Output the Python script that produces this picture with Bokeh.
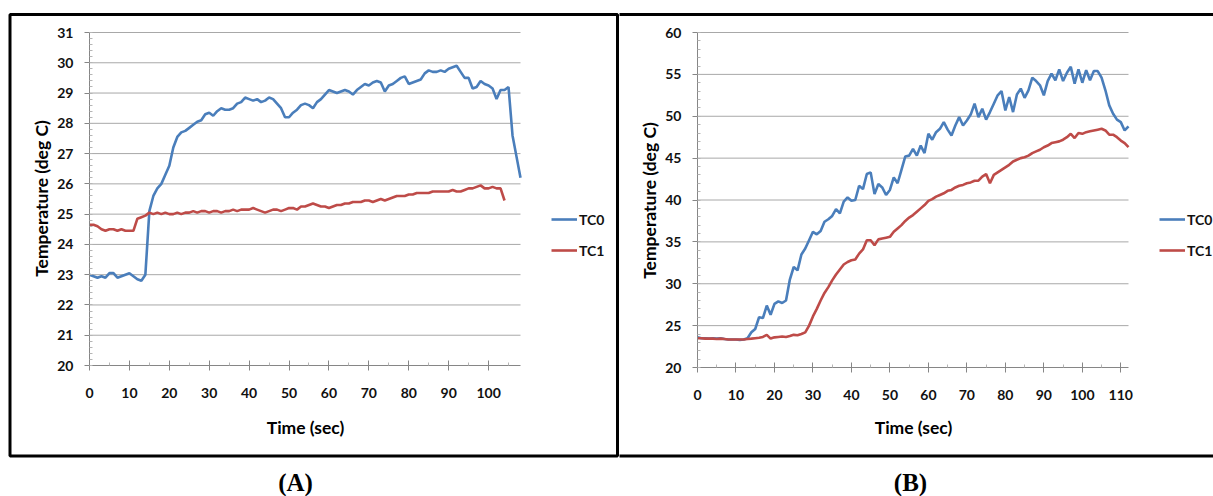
import math

from bokeh.plotting import figure
from bokeh.layouts import row
from bokeh.models import (Range1d, FixedTicker, Legend, LegendItem, PolyAnnotation,
                          Label, LinearAxis)
from bokeh.embed import file_html
from bokeh.resources import INLINE

FONT = "Lato"
BLUE = "#4A7EBB"
RED = "#BE4B48"
AXIS_GRAY = "#868686"
GRID_GRAY = "#a8a8a8"

# ---- Panel (A): thermocouple readings, seconds 0..108 ----
a_time_tc0 = list(range(0, 109))
a_tc0 = [23.0, 22.95, 22.9, 22.95, 22.9, 23.05, 23.05, 22.9, 22.95, 23.0,
         23.05, 22.95, 22.85, 22.8, 23.0, 25.1, 25.6, 25.85, 26.0, 26.3,
         26.6, 27.2, 27.55, 27.7, 27.75, 27.85, 27.95, 28.05, 28.1, 28.3,
         28.35, 28.25, 28.4, 28.5, 28.45, 28.45, 28.5, 28.65, 28.7, 28.85,
         28.8, 28.75, 28.8, 28.7, 28.75, 28.85, 28.8, 28.65, 28.5, 28.2,
         28.2, 28.35, 28.45, 28.6, 28.65, 28.6, 28.5, 28.7, 28.8, 28.95,
         29.1, 29.05, 29.0, 29.05, 29.1, 29.05, 28.95, 29.1, 29.2, 29.3,
         29.25, 29.35, 29.4, 29.35, 29.05, 29.25, 29.3, 29.4, 29.5, 29.55,
         29.3, 29.35, 29.4, 29.45, 29.65, 29.75, 29.7, 29.7, 29.75, 29.7,
         29.8, 29.85, 29.9, 29.7, 29.5, 29.5, 29.15, 29.2, 29.4, 29.3,
         29.25, 29.15, 28.8, 29.1, 29.1, 29.2, 27.6, 26.9, 26.2]

a_time_tc1 = list(range(0, 105))
a_tc1 = [24.65, 24.65, 24.6, 24.5, 24.45, 24.5, 24.5, 24.45, 24.5, 24.45,
         24.45, 24.45, 24.85, 24.9, 24.95, 25.05, 25.0, 25.05, 25.0, 25.05,
         25.0, 25.0, 25.05, 25.0, 25.05, 25.05, 25.1, 25.05, 25.1, 25.1,
         25.05, 25.1, 25.1, 25.05, 25.1, 25.1, 25.15, 25.1, 25.15, 25.15,
         25.15, 25.2, 25.15, 25.1, 25.05, 25.1, 25.15, 25.15, 25.1, 25.15,
         25.2, 25.2, 25.15, 25.25, 25.25, 25.3, 25.35, 25.3, 25.25, 25.25,
         25.2, 25.25, 25.3, 25.3, 25.35, 25.35, 25.4, 25.4, 25.4, 25.45,
         25.45, 25.4, 25.45, 25.5, 25.45, 25.5, 25.55, 25.6, 25.6, 25.6,
         25.65, 25.65, 25.7, 25.7, 25.7, 25.7, 25.75, 25.75, 25.75, 25.75,
         25.75, 25.8, 25.75, 25.75, 25.8, 25.85, 25.85, 25.9, 25.95, 25.85,
         25.85, 25.9, 25.85, 25.85, 25.45]

a_xticks = [0, 10, 20, 30, 40, 50, 60, 70, 80, 90, 100]
a_yticks = [20, 21, 22, 23, 24, 25, 26, 27, 28, 29, 30, 31]
a_xlim = (0, 108)
a_ylim = (20, 31)

# ---- Panel (B): thermocouple readings, seconds 0..112 ----
b_time = list(range(0, 113))
b_tc0 = [23.6, 23.5, 23.5, 23.45, 23.5, 23.45, 23.5, 23.4, 23.35, 23.35,
         23.35, 23.3, 23.35, 23.5, 24.2, 24.6, 26.0, 25.9, 27.4, 26.3,
         27.6, 27.9, 27.7, 28.0, 30.5, 32.0, 31.6, 33.5, 34.2, 35.2,
         36.2, 35.9, 36.3, 37.4, 37.7, 38.1, 38.9, 38.4, 39.8, 40.3,
         39.9, 40.0, 41.7, 41.3, 43.1, 43.3, 40.7, 41.9, 41.5, 40.6,
         41.2, 42.7, 42.0, 43.6, 45.2, 45.3, 46.1, 45.3, 46.5, 45.6,
         47.9, 47.2, 48.1, 48.5, 49.3, 48.4, 47.7, 48.9, 49.9, 48.9,
         49.5, 50.2, 51.5, 49.9, 50.9, 49.6, 50.5, 51.5, 52.5, 53.0,
         50.7, 52.3, 50.5, 52.6, 53.3, 52.2, 53.1, 54.6, 54.2, 53.7,
         52.5, 54.2, 55.1, 54.3, 55.6, 54.2, 55.2, 55.9, 53.9, 55.6,
         54.0, 55.5, 54.3, 55.4, 55.4, 54.6, 53.1, 51.3, 50.3, 49.6,
         49.3, 48.3, 48.8]
b_tc1 = [23.5, 23.5, 23.45, 23.45, 23.45, 23.4, 23.45, 23.4, 23.35, 23.35,
         23.35, 23.35, 23.35, 23.4, 23.45, 23.5, 23.55, 23.65, 23.9, 23.45,
         23.6, 23.65, 23.7, 23.65, 23.75, 23.9, 23.85, 24.0, 24.2, 25.0,
         26.1, 27.0, 28.0, 28.9, 29.6, 30.4, 31.1, 31.7, 32.3, 32.6,
         32.8, 32.9, 33.6, 34.1, 35.2, 35.2, 34.6, 35.3, 35.4, 35.5,
         35.6, 36.2, 36.6, 37.0, 37.5, 37.9, 38.2, 38.6, 39.0, 39.4,
         39.9, 40.1, 40.4, 40.6, 40.8, 41.1, 41.2, 41.5, 41.7, 41.8,
         42.0, 42.1, 42.3, 42.3, 42.8, 43.1, 42.0, 43.0, 43.3, 43.6,
         43.9, 44.2, 44.6, 44.8, 45.0, 45.1, 45.3, 45.6, 45.8, 46.0,
         46.3, 46.5, 46.8, 46.9, 47.0, 47.2, 47.5, 47.9, 47.4, 48.0,
         47.9, 48.1, 48.2, 48.3, 48.4, 48.5, 48.3, 47.8, 47.8, 47.5,
         47.1, 46.8, 46.3]

b_xticks = [0, 10, 20, 30, 40, 50, 60, 70, 80, 90, 100, 110]
b_yticks = [20, 25, 30, 35, 40, 45, 50, 55, 60]
b_xlim = (0, 112)
b_ylim = (20, 60)

series_names = ["TC0", "TC1"]
panel_labels = ["(A)", "(B)"]
x_title = "Time (sec)"
y_title = "Temperature (deg C)"

H = 496


def make_panel(width, plot_box, xlim, ylim, xticks, xminor, yticks, yminor,
               curves, border, legend_x, tag, tag_x, ytitle_x, ytitle_y, xtitle_x):
    """plot_box = (left, right, top, bottom) of the data area in canvas pixels."""
    left, right, top, bottom = plot_box
    kx = (right - left) / (xlim[1] - xlim[0])
    ky = (bottom - top) / (ylim[1] - ylim[0])
    x_range = Range1d(xlim[0] - left / kx, xlim[1] + (width - right) / kx)
    y_range = Range1d(ylim[0] - (H - bottom) / ky, ylim[1] + top / ky)

    p = figure(width=width, height=H, output_backend="svg", toolbar_location=None,
               x_range=x_range, y_range=y_range, x_axis_type=None, y_axis_type=None,
               min_border=0, min_border_left=0, min_border_right=0,
               min_border_top=0, min_border_bottom=0)
    p.outline_line_color = None
    p.background_fill_color = "white"
    p.border_fill_color = "white"
    p.xgrid.visible = False
    p.ygrid.visible = False

    # horizontal gridlines across the data area
    grid_y = [t for t in yticks if t != ylim[0]]
    p.segment(x0=[xlim[0]] * len(grid_y), x1=[xlim[1]] * len(grid_y),
              y0=grid_y, y1=grid_y, line_color=GRID_GRAY, line_width=1)

    xa = LinearAxis(fixed_location=ylim[0], bounds=xlim,
                    ticker=FixedTicker(ticks=xticks, minor_ticks=xminor))
    ya = LinearAxis(fixed_location=xlim[0], bounds=ylim,
                    ticker=FixedTicker(ticks=yticks, minor_ticks=yminor))
    for ax in (xa, ya):
        ax.axis_line_color = AXIS_GRAY
        ax.major_tick_line_color = AXIS_GRAY
        ax.minor_tick_line_color = "#b5b5b5"
        ax.major_label_text_font = FONT
        ax.major_label_text_font_style = "bold"
        ax.major_label_text_font_size = "14px"
        ax.major_label_text_color = "#111111"
    xa.major_tick_in = 5
    xa.major_tick_out = 5
    xa.minor_tick_in = 3
    xa.minor_tick_out = 0
    xa.major_label_standoff = 17
    ya.major_tick_in = 0
    ya.major_tick_out = 5
    ya.minor_tick_in = 3
    ya.minor_tick_out = 0
    ya.major_label_standoff = 11
    p.add_layout(xa, "below")
    p.add_layout(ya, "left")

    items = []
    for (xs, ys, color), name in zip(curves, series_names):
        r = p.line(xs, ys, line_color=color, line_width=2.6)
        items.append(LegendItem(label=name, renderers=[r]))

    legend = Legend(items=items, location=(legend_x, H - 260), orientation="vertical",
                    glyph_width=26, glyph_height=20, label_height=20, spacing=11,
                    padding=0, margin=0, label_standoff=2,
                    border_line_color=None, background_fill_alpha=0,
                    label_text_font=FONT, label_text_font_size="14px",
                    label_text_font_style="bold", label_text_color="#111111")
    p.add_layout(legend)

    # axis titles
    p.add_layout(Label(x=ytitle_x, y=H - ytitle_y, x_units="screen", y_units="screen",
                       text=y_title, angle=math.pi / 2, text_align="center",
                       text_baseline="middle", text_font=FONT, text_font_style="bold",
                       text_font_size="17.5px", text_color="black"))
    p.add_layout(Label(x=xtitle_x, y=H - 427, x_units="screen", y_units="screen",
                       text=x_title, text_align="center", text_baseline="middle",
                       text_font=FONT, text_font_style="bold",
                       text_font_size="17.5px", text_color="black"))

    # panel frame
    bl, br, bt, bb = border
    p.add_layout(PolyAnnotation(xs=[bl, br, br, bl], ys=[H - bt, H - bt, H - bb, H - bb],
                                xs_units="screen", ys_units="screen",
                                fill_alpha=0, line_color="black", line_alpha=1.0,
                                line_width=3))

    # panel caption
    p.add_layout(Label(x=tag_x, y=H - 482, x_units="screen", y_units="screen",
                       text=tag, text_align="center", text_baseline="middle",
                       text_font="Liberation Serif", text_font_style="bold",
                       text_font_size="25px", text_color="black"))
    return p


a_xminor = [v + 5 for v in a_xticks]
a_yminor = [20 + i * 0.2 for i in range(56)]
b_xminor = [v + 5 for v in b_xticks[:-1]]
b_yminor = [20 + i for i in range(41)]

p1 = make_panel(619, (89, 520, 32, 365), a_xlim, a_ylim,
                a_xticks, a_xminor, a_yticks, a_yminor,
                [(a_time_tc0, a_tc0, BLUE), (a_time_tc1, a_tc1, RED)],
                (9.5, 617, 14, 455.5), 551, panel_labels[0], 295, 41, 198, 305)

p2 = make_panel(594, (78, 509, 32, 367), b_xlim, b_ylim,
                b_xticks, b_xminor, b_yticks, b_yminor,
                [(b_time, b_tc0, BLUE), (b_time, b_tc1, RED)],
                (-10, 610, 14, 455.5), 540, panel_labels[1], 291, 29.5, 200, 294)

layout = row(p1, p2, spacing=0)
open("out.html", "w").write(file_html(layout, INLINE))
